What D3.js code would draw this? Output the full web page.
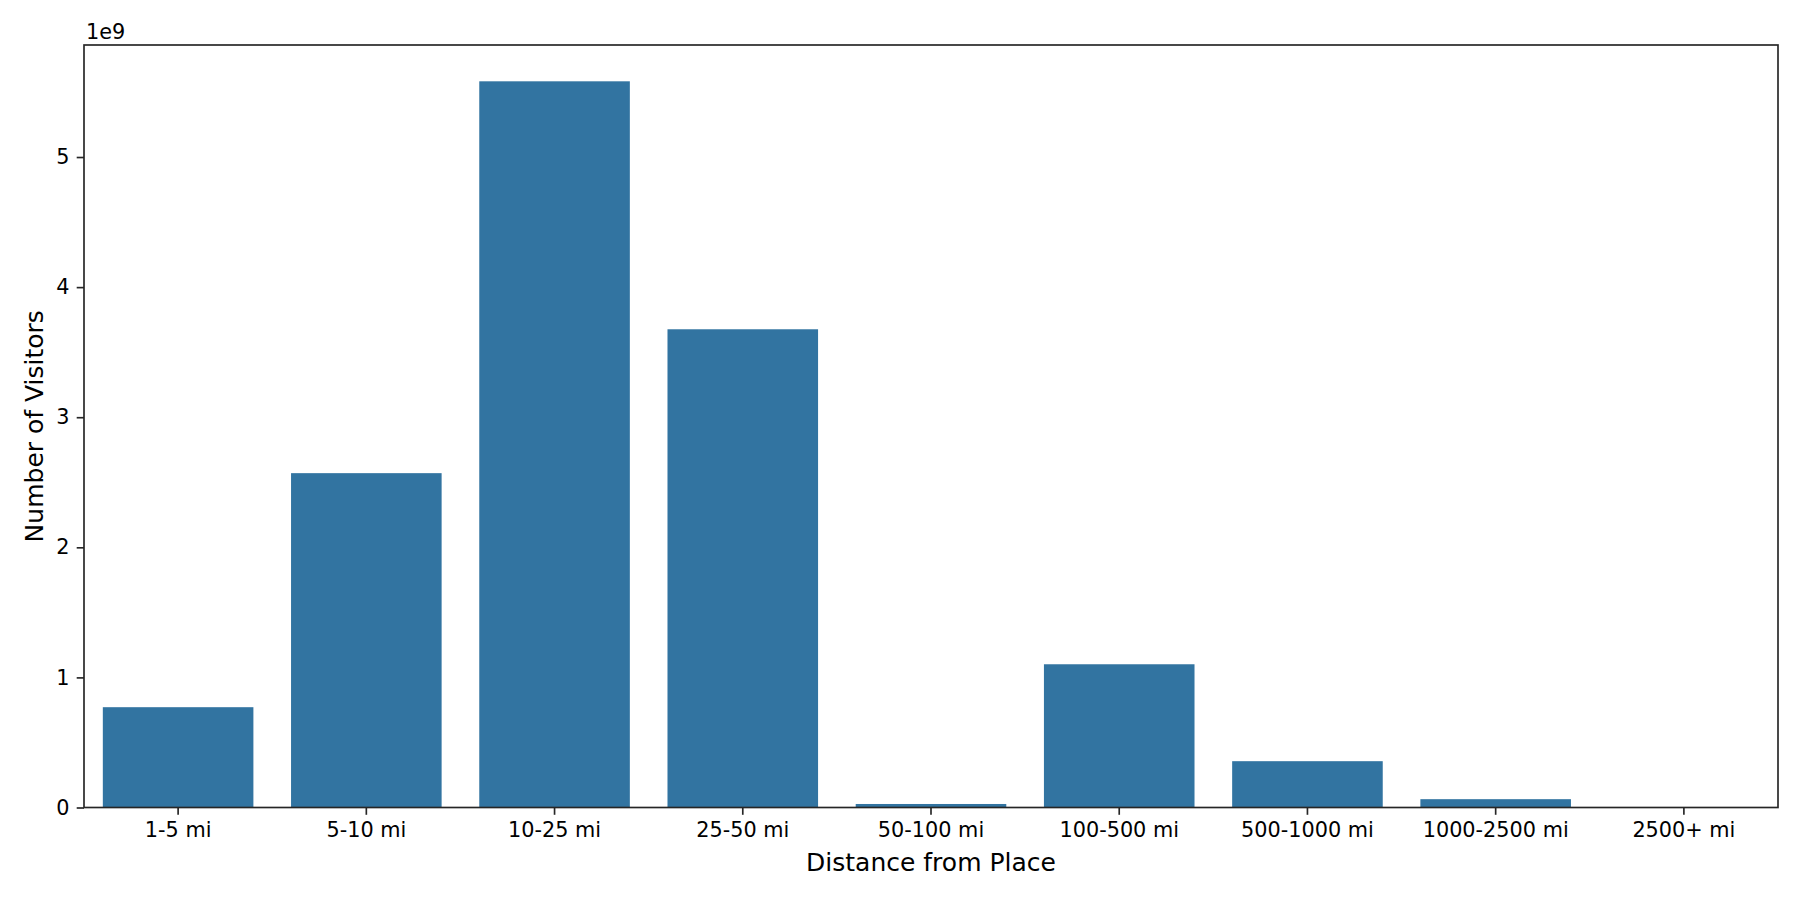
<!DOCTYPE html>
<html>
<head>
<meta charset="utf-8">
<script src="https://cdn.jsdelivr.net/npm/d3@7"></script>
<style>
  body { margin: 0; background: #fff; }
  svg { display: block; font-family: "DejaVu Sans", sans-serif; }
</style>
</head>
<body>
<div id="chart"></div>
<script>
    // distance buckets and visitor counts
    const categories = ["1-5 mi", "5-10 mi", "10-25 mi", "25-50 mi", "50-100 mi",
                        "100-500 mi", "500-1000 mi", "1000-2500 mi", "2500+ mi"];
    const visitors = [0.771e9, 2.570e9, 5.582e9, 3.676e9, 0.027e9,
                      1.101e9, 0.356e9, 0.064e9, 0.003e9];
    const yTicks = [0, 1, 2, 3, 4, 5];

    var width = 1800, height = 900;
    var margin = {left: 84, right: 22, top: 45, bottom: 92.5};
    var barColor = "#3274a1";
    var ink = "#262626";

    var svg = d3.select("#chart").append("svg")
        .attr("width", width)
        .attr("height", height);

    var x = d3.scaleBand()
        .domain(categories)
        .range([margin.left, width - margin.right])
        .paddingInner(0.2)
        .paddingOuter(0.1);

    var y = d3.scaleLinear()
        .domain([0, d3.max(visitors) / 1e9 * 1.05])
        .range([height - margin.bottom, margin.top]);

    svg.selectAll("rect.bar")
        .data(visitors)
        .enter().append("rect")
        .attr("class", "bar")
        .attr("x", (d, i) => x(categories[i]))
        .attr("width", x.bandwidth())
        .attr("y", d => y(d / 1e9))
        .attr("height", d => y(0) - y(d / 1e9))
        .attr("fill", barColor);

    // x axis
    var xAxis = svg.append("g")
        .attr("transform", `translate(0,${height - margin.bottom})`)
        .call(d3.axisBottom(x).tickSizeOuter(0).tickSize(7.3).tickPadding(7.3));

    // y axis
    var yAxis = svg.append("g")
        .attr("transform", `translate(${margin.left},0)`)
        .call(d3.axisLeft(y).tickValues(yTicks).tickFormat(d3.format("d"))
              .tickSizeOuter(0).tickSize(7.3).tickPadding(7.3));

    [xAxis, yAxis].forEach(g => {
        g.select(".domain").remove();
        g.selectAll(".tick line").attr("stroke", ink).attr("stroke-width", 1.67);
        g.selectAll(".tick text")
            .attr("fill", "#000")
            .style("font-size", "20.8px")
            .style("font-family", "DejaVu Sans");
    });

    // frame (all four spines)
    svg.append("rect")
        .attr("x", margin.left)
        .attr("y", margin.top)
        .attr("width", width - margin.left - margin.right)
        .attr("height", height - margin.top - margin.bottom)
        .attr("fill", "none")
        .attr("stroke", ink)
        .attr("stroke-width", 1.67);

    // offset text
    svg.append("text")
        .attr("x", margin.left + 2)
        .attr("y", margin.top - 6.5)
        .style("font-size", "20.8px")
        .text("1e9");

    svg.append("text")
        .attr("x", (margin.left + width - margin.right) / 2)
        .attr("y", 871)
        .attr("text-anchor", "middle")
        .style("font-size", "25px")
        .text("Distance from Place");

    svg.append("text")
        .attr("transform", `translate(43,${(margin.top + height - margin.bottom) / 2}) rotate(-90)`)
        .attr("text-anchor", "middle")
        .style("font-size", "25px")
        .text("Number of Visitors");
</script>
</body>
</html>
